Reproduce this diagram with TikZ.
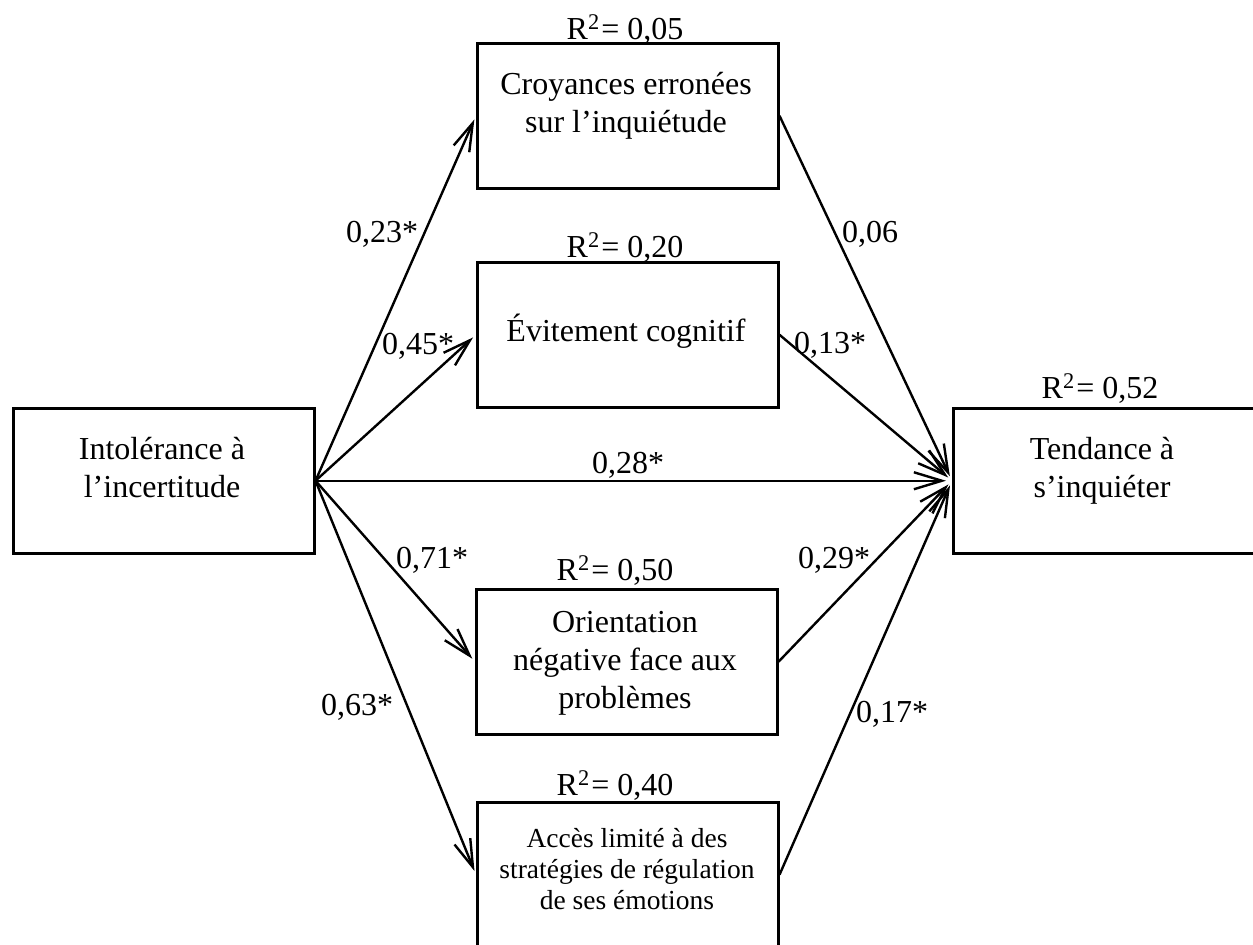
\documentclass[tikz,border=0pt]{standalone}
\usepackage{fontspec}
\setmainfont{Liberation Serif}
\usetikzlibrary{arrows.meta}

\newcommand{\rsq}[1]{R\textsuperscript{2}\kern1.5pt= #1}

\begin{document}
\begin{tikzpicture}[x=1pt,y=-1pt,
  box/.style={draw, line width=2.5pt, minimum width=301pt, minimum height=145pt,
              inner sep=0pt, anchor=north west},
  % the base anchor of a multi-line text sits on its last line
  txt/.style={align=center, anchor=base, inner sep=0pt,
              font=\fontsize{32}{38}\selectfont},
  smalltxt/.style={align=center, anchor=base, inner sep=0pt,
              font=\fontsize{27.5}{31}\selectfont},
  coef/.style={anchor=base, inner sep=0pt, font=\fontsize{32}{38}\selectfont},
  link/.style={line width=2.4pt, -{Straight Barb[length=28pt,width=17pt]}},
  ]
\useasboundingbox (0,0) rectangle (1253,945);

% boxes
\node[box] (iu) at (12,407)  {};
\node[box] (ti) at (952,407) {};
\node[box] (cr) at (476,42)  {};
\node[box] (ev) at (476,261) {};
\node[box] (on) at (475,588) {};
\node[box] (ac) at (476,801) {};

% box texts
\node[txt] (iut) at (162,497)  {Intolérance à\\l’incertitude};
\node[txt] (tit) at (1102,497) {Tendance à\\s’inquiéter};
\node[txt] (crt) at (626,132)  {Croyances erronées\\sur l’inquiétude};
\node[txt] (evt) at (626,341)  {Évitement cognitif};
\node[txt] (ont) at (625,708)  {Orientation\\négative face aux\\problèmes};
\node[smalltxt] (act) at (627,909) {Accès limité à des\\stratégies de régulation\\de ses émotions};

% explained variance
\node[coef] (r1) at (625,39)   {\rsq{0,05}};
\node[coef] (r2) at (625,257)  {\rsq{0,20}};
\node[coef] (r3) at (615,580)  {\rsq{0,50}};
\node[coef] (r4) at (615,795)  {\rsq{0,40}};
\node[coef] (r5) at (1100,398) {\rsq{0,52}};

% paths from the predictor
\draw[link, shorten >=4pt] (iu.east) -- (cr.west);
\draw[link, shorten >=4pt] (iu.east) -- (ev.west);
\draw[link, shorten >=6pt] (iu.east) -- (ti.west);
\draw[link, shorten >=4pt] (iu.east) -- (on.west);
\draw[link, shorten >=4pt] (iu.east) -- (ac.west);

% paths to the outcome
\draw[link, shorten >=5pt] (cr.east) -- (ti.west);
\draw[link, shorten >=5pt] (ev.east) -- (ti.west);
\draw[link, shorten >=5pt] (on.east) -- (ti.west);
\draw[link, shorten >=5pt] (ac.east) -- (ti.west);

% coefficients
\node[coef] (c1) at (382,242) {0,23*};
\node[coef] (c2) at (418,354) {0,45*};
\node[coef] (c3) at (628,473) {0,28*};
\node[coef] (c4) at (432,568) {0,71*};
\node[coef] (c5) at (357,715) {0,63*};
\node[coef] (c6) at (870,242) {0,06};
\node[coef] (c7) at (830,353) {0,13*};
\node[coef] (c8) at (834,568) {0,29*};
\node[coef] (c9) at (892,722) {0,17*};
\end{tikzpicture}
\end{document}
